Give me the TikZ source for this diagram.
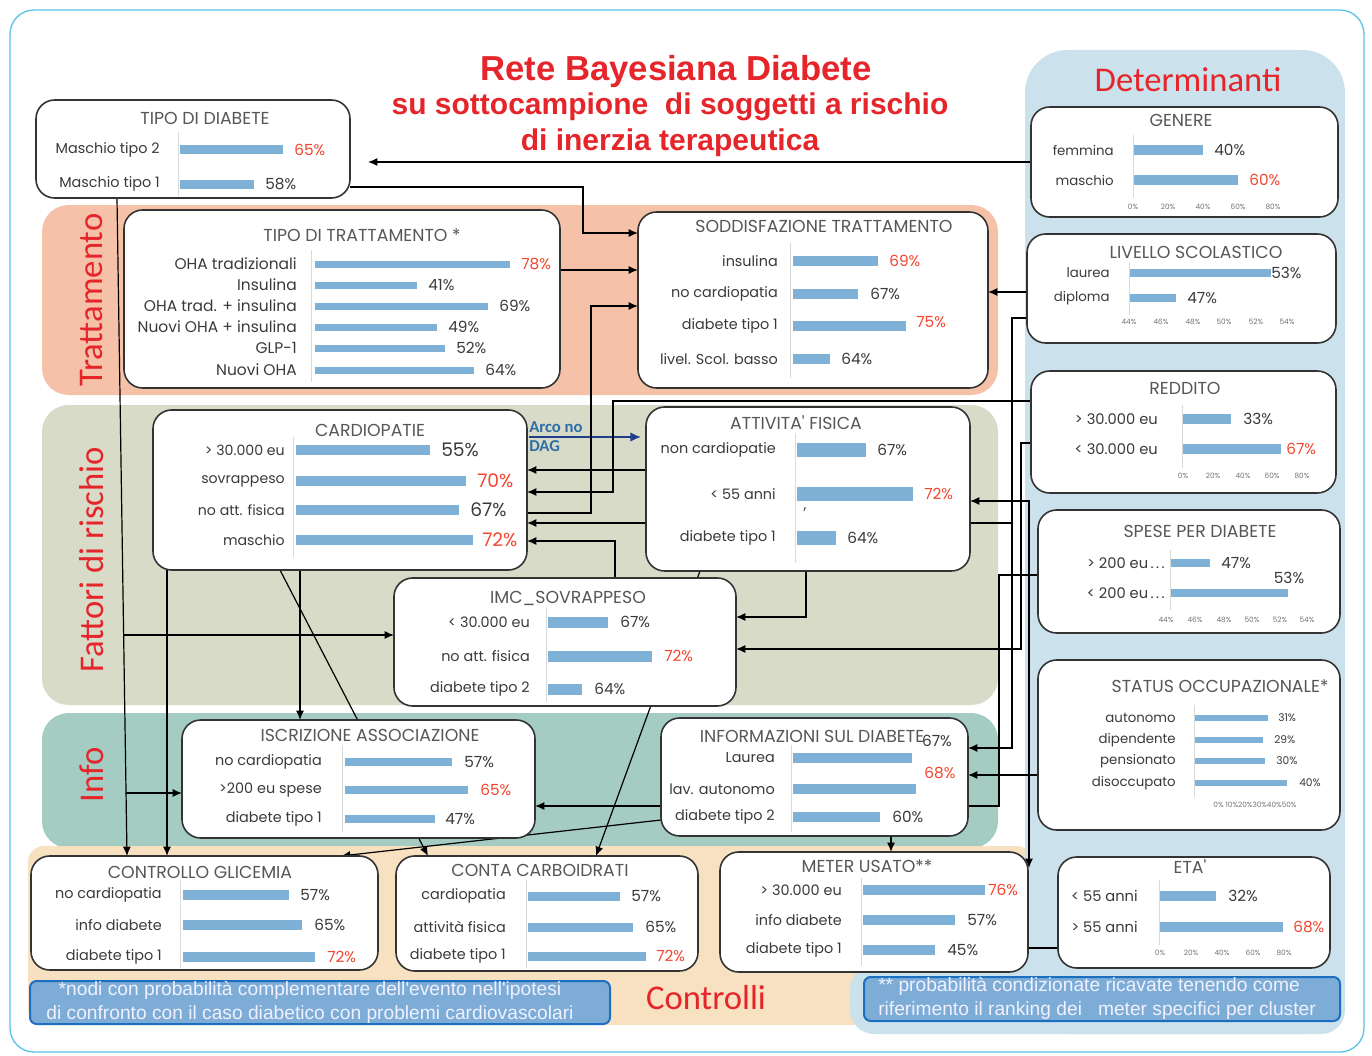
\documentclass[tikz,border=0pt]{standalone}
\usepackage{fontspec}
\setmainfont{Poppins}
\newfontfamily\boxfont{Poppins}
\newfontfamily\labfont{Carlito}
\newfontfamily\ttlfont{Liberation Sans}
\usetikzlibrary{arrows.meta}
\definecolor{barc}{HTML}{7FB1D6}
\definecolor{valred}{HTML}{F2452E}
\definecolor{txtg}{HTML}{3A3A3A}
\definecolor{redt}{HTML}{E5252A}
\definecolor{bandT}{HTML}{F5C2A9}
\definecolor{bandF}{HTML}{D7DBC8}
\definecolor{bandI}{HTML}{A4CCC3}
\definecolor{bandC}{HTML}{F8E1C0}
\definecolor{bandD}{HTML}{CBE1EC}
\definecolor{fnfill}{HTML}{7DADD7}
\definecolor{fnline}{HTML}{1C6FC0}
\definecolor{framec}{HTML}{5CC4E4}
\definecolor{dagc}{HTML}{1F3F8C}
\definecolor{dagt}{HTML}{2E6EA6}
\pgfdeclarelayer{bands}\pgfdeclarelayer{conn}
\pgfsetlayers{bands,conn,main}
\def\lsize{10.8}
\tikzset{
 pbox/.style={draw=black!80, line width=1.2pt, fill=white, rounded corners=14pt, inner sep=0pt, outer sep=0pt},
 lbl/.style={font=\boxfont\fontsize{\lsize}{12}\selectfont, text=txtg, inner sep=0pt},
 val/.style={font=\boxfont\fontsize{11.5}{13}\selectfont, text=txtg, inner sep=0pt},
 valr/.style={val, text=valred},
 valb/.style={font=\boxfont\fontsize{14}{15}\selectfont, text=txtg, inner sep=0pt},
 valbr/.style={valb, text=valred},
 vals/.style={font=\boxfont\fontsize{8}{9}\selectfont, text=txtg, inner sep=0pt},
 ttl/.style={font=\boxfont\fontsize{13}{14}\selectfont, text=txtg!85, inner sep=0pt},
 tick/.style={font=\boxfont\fontsize{5.5}{6}\selectfont, text=black!55, inner sep=0pt},
 axisl/.style={draw=black!15, line width=0.6pt},
 arr/.style={draw=black, line width=0.9pt, -{Latex[length=7pt,width=6pt]}},
 arr2/.style={draw=black, line width=0.9pt, {Latex[length=7pt,width=6pt]}-{Latex[length=7pt,width=6pt]}},
 plain/.style={draw=black, line width=0.9pt},
 dag/.style={draw=dagc, line width=1pt, -{Latex[length=8pt,width=7pt]}},
 bandlab/.style={font=\labfont\fontsize{26}{28}\selectfont, text=redt, inner sep=0pt},
 fnbox/.style={fill=fnfill, draw=fnline, line width=1.5pt, rounded corners=5pt, inner sep=0pt},
 fntext/.style={font=\ttlfont\fontsize{14.4}{18}\selectfont, text=white!94!blue, inner sep=0pt},
}
\newcommand{\mkbox}[5]{\node[pbox, minimum width={(#4-#2)*0.75pt}, minimum height={(#5-#3)*0.75pt}] (#1) at ({(#2+#4)/2},{(#3+#5)/2}) {};}
\newcommand{\brow}[9]{%
 \node[lbl,anchor=east] (#1-l) at (#3,#2) {#4};
 \fill[barc] (#5,#2-\bh) rectangle (#6,#2+\bh);
 \node[#9,anchor=west] (#1-v) at (#7,#2) {#8};}
\begin{document}
\begin{tikzpicture}[x=0.75pt,y=-0.75pt]
\useasboundingbox (0,0) rectangle (1372,1056);
\begin{pgfonlayer}{bands}
\fill[white] (0,0) rectangle (1372,1056);
\draw[draw=framec, line width=1pt, rounded corners=18pt] (10,10) rectangle (1364,1052);
\fill[bandT, rounded corners=20pt] (42,205) rectangle (998,395);
\fill[bandF, rounded corners=20pt] (42,405) rectangle (998,705);
\fill[bandI, rounded corners=20pt] (42,713) rectangle (998,848);
\fill[bandC, rounded corners=12pt] (28,846) rectangle (1032,1025);
\fill[bandD, rounded corners=32pt] (1025,50) rectangle (1345,1034);
\fill[bandD, rounded corners=18pt] (850,965) rectangle (1345,1034);
\end{pgfonlayer}

% band labels and title
\node[bandlab, rotate=90] (lab-t) at (92,300) {Trattamento};
\node[bandlab, rotate=90] (lab-f) at (92,560) {Fattori di rischio};
\node[bandlab, rotate=90] (lab-i) at (92,775) {Info};
\node[bandlab] (lab-c) at (706,998) {Controlli};
\node[bandlab] (lab-d) at (1188,80) {Determinanti};
\node[font=\ttlfont\bfseries\fontsize{26}{28}\selectfont, text=redt, inner sep=0pt] (tit1) at (676,72) {Rete Bayesiana Diabete};
\node[font=\ttlfont\bfseries\fontsize{22.5}{24}\selectfont, text=redt, inner sep=0pt] (tit2) at (670,107) {su sottocampione\ \ di soggetti a rischio};
\node[font=\ttlfont\bfseries\fontsize{22.5}{24}\selectfont, text=redt, inner sep=0pt] (tit3) at (670,143) {di inerzia terapeutica};

% boxes
\mkbox{tdd}{36}{100}{350}{198}
\mkbox{ttr}{124}{210}{560}{388}
\mkbox{sod}{638}{212}{988}{388}
\mkbox{car}{153}{410}{527}{570}
\mkbox{att}{646}{407}{970}{571}
\mkbox{imc}{394}{578}{736}{706}
\mkbox{isc}{182}{720}{535}{838}
\mkbox{inf}{661}{718}{968}{836}
\mkbox{cg}{31}{856}{378}{970}
\mkbox{cc}{396}{856}{698}{971}
\mkbox{met}{720}{852}{1028}{972}
\mkbox{gen}{1031}{107}{1338}{217}
\mkbox{liv}{1027}{234}{1336}{343}
\mkbox{rdd}{1031}{371}{1336}{493}
\mkbox{spe}{1038}{510}{1340}{633}
\mkbox{sta}{1038}{660}{1340}{830}
\mkbox{eta}{1058}{857}{1330}{968}

% TIPO DI DIABETE
\def\bh{4.5}
\node[ttl] (tdd-t) at (205,118) {TIPO DI DIABETE};
\draw[axisl] (178,132) -- (178,196);
\brow{tdd1}{150}{160}{Maschio tipo 2}{180}{283}{294}{65\%}{valr}
\brow{tdd2}{184}{160}{Maschio tipo 1}{180}{254}{265}{58\%}{val}

% TIPO DI TRATTAMENTO
\def\bh{3.5}\def\lsize{11.6}
\node[ttl] (ttr-t) at (362,235) {TIPO DI TRATTAMENTO *};
\draw[axisl] (311,250) -- (311,382);
\brow{ttr1}{264}{297}{OHA tradizionali}{315}{510}{521}{78\%}{valr}
\brow{ttr2}{285}{297}{Insulina}{315}{417}{428}{41\%}{val}
\brow{ttr3}{306}{297}{OHA trad. + insulina}{315}{488}{499}{69\%}{val}
\brow{ttr4}{327}{297}{Nuovi OHA + insulina}{315}{437}{448}{49\%}{val}
\brow{ttr5}{348}{297}{GLP-1}{315}{445}{456}{52\%}{val}
\brow{ttr6}{370}{297}{Nuovi OHA}{315}{474}{485}{64\%}{val}

% SODDISFAZIONE
\def\bh{5}\def\lsize{10.8}
\node[ttl] (sod-t) at (824,226) {SODDISFAZIONE TRATTAMENTO};
\draw[axisl] (790,243) -- (790,378);
\brow{sod1}{261}{778}{insulina}{793}{878}{889}{69\%}{valr}
\brow{sod2}{294}{778}{no cardiopatia}{793}{858}{870}{67\%}{val}
\brow{sod3}{326}{778}{diabete tipo 1}{793}{906}{916}{}{val}
\node[valr,anchor=west] (sod3-x) at (916,322) {75\%};
\brow{sod4}{359}{778}{livel. Scol. basso}{793}{830}{841}{64\%}{val}

% CARDIOPATIE
\def\lsize{10.6}
\node[ttl] (car-t) at (370,430) {CARDIOPATIE};
\draw[axisl] (293,437) -- (293,557);
\brow{car1}{450}{285}{> 30.000 eu}{296}{430}{441}{55\%}{valb}
\brow{car2}{481}{285}{sovrappeso}{296}{466}{477}{70\%}{valbr}
\brow{car3}{510}{285}{no att. fisica}{296}{459}{470}{67\%}{valb}
\brow{car4}{540}{285}{maschio}{296}{473}{482}{72\%}{valbr}

% ATTIVITA' FISICA
\def\bh{7}\def\lsize{10.8}
\node[ttl] (att-t) at (796,423) {ATTIVITA' FISICA};
\draw[axisl] (795,433) -- (795,563);
\brow{att1}{450}{776}{non cardiopatie}{797}{866}{877}{67\%}{val}
\brow{att2}{494}{776}{< 55 anni}{797}{913}{924}{72\%}{valr}
\brow{att3}{538}{776}{diabete tipo 1}{797}{836}{847}{64\%}{val}
\node[lbl] (att-c) at (805,510) {,};

% IMC
\def\bh{5.5}
\node[ttl] (imc-t) at (568,598) {IMC\_SOVRAPPESO};
\draw[axisl] (546,607) -- (546,702);
\brow{imc1}{622}{530}{< 30.000 eu}{548}{608}{620}{67\%}{val}
\brow{imc2}{656}{530}{no att. fisica}{548}{652}{664}{72\%}{valr}
\brow{imc3}{689}{530}{diabete tipo 2}{548}{582}{594}{64\%}{val}

% ISCRIZIONE
\def\bh{4}
\node[ttl] (isc-t) at (370,735) {ISCRIZIONE ASSOCIAZIONE};
\draw[axisl] (342,745) -- (342,832);
\brow{isc1}{762}{322}{no cardiopatia}{345}{452}{464}{57\%}{val}
\brow{isc2}{790}{322}{>200 eu spese}{345}{468}{480}{65\%}{valr}
\brow{isc3}{819}{322}{diabete tipo 1}{345}{435}{445}{47\%}{val}

% INFORMAZIONI
\def\bh{5}
\node[ttl] (inf-t) at (812,736) {INFORMAZIONI SUL DIABETE};
\node[val] (inf-a) at (937,741) {67\%};
\node[valr] (inf-b) at (940,773) {68\%};
\draw[axisl] (791,745) -- (791,832);
\brow{inf1}{758}{775}{Laurea}{793}{912}{920}{}{val}
\brow{inf2}{789}{775}{lav. autonomo}{793}{916}{920}{}{val}
\brow{inf3}{817}{775}{diabete tipo 2}{793}{880}{892}{60\%}{val}

% CONTROLLO GLICEMIA
\node[ttl] (cg-t) at (200,872) {CONTROLLO GLICEMIA};
\draw[axisl] (180,880) -- (180,968);
\brow{cg1}{895}{162}{no cardiopatia}{183}{289}{300}{57\%}{val}
\brow{cg2}{925}{162}{info diabete}{183}{302}{314}{65\%}{val}
\brow{cg3}{957}{162}{diabete tipo 1}{183}{315}{327}{72\%}{valr}

% CONTA CARBOIDRATI
\def\bh{4.5}
\node[ttl] (cc-t) at (540,870) {CONTA CARBOIDRATI};
\draw[axisl] (526,880) -- (526,968);
\brow{cc1}{896}{506}{cardiopatia}{528}{620}{631}{57\%}{val}
\brow{cc2}{927}{506}{attività fisica}{528}{633}{645}{65\%}{val}
\brow{cc3}{956}{506}{diabete tipo 1}{528}{646}{656}{72\%}{valr}

% METER USATO
\def\bh{5}
\node[ttl] (met-t) at (867,866) {METER USATO**};
\draw[axisl] (861,878) -- (861,966);
\brow{met1}{890}{842}{> 30.000 eu}{863}{985}{988}{76\%}{valr}
\brow{met2}{920}{842}{info diabete}{863}{955}{967}{57\%}{val}
\brow{met3}{950}{842}{diabete tipo 1}{863}{935}{947}{45\%}{val}

% GENERE
\def\lsize{10}
\node[ttl] (gen-t) at (1181,120) {GENERE};
\draw[axisl] (1133,135) -- (1133,198);
\brow{gen1}{150}{1114}{femmina}{1134}{1203}{1214}{40\%}{val}
\brow{gen2}{180}{1114}{maschio}{1134}{1238}{1249}{60\%}{valr}
\foreach \x/\t [count=\i] in {1133/0,1168/20,1203/40,1238/60,1273/80}
  \node[tick] (gen-k\i) at (\x,207) {\t\%};

% LIVELLO SCOLASTICO
\def\bh{4}
\node[ttl] (liv-t) at (1196,252) {LIVELLO SCOLASTICO};
\draw[axisl] (1129,262) -- (1129,315);
\brow{liv1}{273}{1110}{laurea}{1130}{1271}{1271}{53\%}{val}
\brow{liv2}{298}{1110}{diploma}{1130}{1176}{1187}{47\%}{val}
\foreach \x/\t [count=\i] in {1129/44,1161/46,1193/48,1224/50,1256/52,1287/54}
  \node[tick] (liv-k\i) at (\x,322) {\t\%};

% REDDITO
\def\bh{5}\def\lsize{11}
\node[ttl] (rdd-t) at (1185,388) {REDDITO};
\draw[axisl] (1182,405) -- (1182,468);
\brow{rdd1}{419}{1158}{> 30.000 eu}{1183}{1231}{1243}{33\%}{val}
\brow{rdd2}{449}{1158}{< 30.000 eu}{1183}{1281}{1286}{67\%}{valr}
\foreach \x/\t [count=\i] in {1183/0,1213/20,1243/40,1272/60,1302/80}
  \node[tick] (rdd-k\i) at (\x,476) {\t\%};

% SPESE
\def\bh{4}
\node[ttl] (spe-t) at (1200,531) {SPESE PER DIABETE};
\draw[axisl] (1170,550) -- (1170,610);
\brow{spe1}{563}{1165}{> 200 eu\,.\,.\,.}{1171}{1210}{1221}{47\%}{val}
\brow{spe2}{593}{1165}{< 200 eu\,.\,.\,.}{1171}{1288}{1290}{}{val}
\node[val] (spe-x) at (1289,578) {53\%};
\foreach \x/\t [count=\i] in {1166/44,1195/46,1224/48,1252/50,1280/52,1307/54}
  \node[tick] (spe-k\i) at (\x,620) {\t\%};

% STATUS
\def\bh{3}\def\lsize{10}
\node[ttl] (sta-t) at (1220,686) {STATUS OCCUPAZIONALE*};
\draw[axisl] (1194,705) -- (1194,797);
\brow{sta1}{718}{1176}{autonomo}{1195}{1268}{1278}{31\%}{vals}
\brow{sta2}{740}{1176}{dipendente}{1195}{1263}{1274}{29\%}{vals}
\brow{sta3}{761}{1176}{pensionato}{1195}{1265}{1276}{30\%}{vals}
\brow{sta4}{783}{1176}{disoccupato}{1195}{1287}{1299}{40\%}{vals}
\node[tick] (sta-k) at (1255,805) {0\% 10\%20\%30\%40\%50\%};

% ETA
\def\bh{5}\def\lsize{11}
\node[ttl] (eta-t) at (1190,867) {ETA'};
\draw[axisl] (1159,880) -- (1159,945);
\brow{eta1}{896}{1138}{< 55 anni}{1160}{1216}{1228}{32\%}{val}
\brow{eta2}{927}{1138}{> 55 anni}{1160}{1283}{1293}{68\%}{valr}
\foreach \x/\t [count=\i] in {1160/0,1191/20,1222/40,1253/60,1284/80}
  \node[tick] (eta-k\i) at (\x,953) {\t\%};

% footnotes
\node[fnbox, minimum width={580*0.75pt}, minimum height={43*0.75pt}] (fn1) at (320,1002.5) {};
\node[fntext, align=center] (fn1-t) at (310,1002.5) {*nodi con probabilità complementare dell'evento nell'ipotesi\\di confronto con il caso diabetico con problemi cardiovascolari};
\node[fnbox, minimum width={476*0.75pt}, minimum height={44*0.75pt}] (fn2) at (1102,999) {};
\node[fntext, align=left, anchor=west] (fn2-t) at (878,998) {** probabilità condizionate ricavate tenendo come\\riferimento il ranking dei\ \ \ meter specifici per cluster};

% Arco no DAG
\node[font=\labfont\bfseries\fontsize{12.5}{13}\selectfont, text=dagt, anchor=west, inner sep=0pt] (dag1) at (529,427) {Arco no};
\node[font=\labfont\bfseries\fontsize{12.5}{13}\selectfont, text=dagt, anchor=west, inner sep=0pt] (dag2) at (529,446) {DAG};
\coordinate (c-dag) at (641,437);
\coordinate (c-gen) at (368,162);
\coordinate (c-met) at (1029,868);

% connectors
\begin{pgfonlayer}{conn}
\draw[dag] (dag1.south west |- 0,437) -- (c-dag);
\draw[arr] (gen.west) -- (c-gen);
\draw[arr] (tdd.east |- 0,187) -| (583,233) -- (sod.west |- 0,233);
\draw[arr] (ttr.east |- 0,270) -- (sod.west |- 0,270);
\draw[arr] (car.east |- 0,513) -| (591,306) -- (sod.west |- 0,306);
\draw[arr] (att.west |- 0,470) -- (car.east |- 0,470);
\draw[arr] (rdd.west |- 0,401) -- (613,401) -- (613,492) -- (car.east |- 0,492);
\draw[arr] (imc.north -| 615,0) |- (car.east |- 0,541);
\draw[arr] (1012,523) -- (car.east |- 0,523);
\draw[arr] (liv.west |- 0,292) -- (sod.east |- 0,292);
\draw[arr] (liv.west |- 0,318) -- (1012,318) |- (inf.east |- 0,748);
\draw[arr] (rdd.west |- 0,443) -- (1021,443) |- (imc.east |- 0,649);
\draw[arr] (att.south -| 806,0) |- (imc.east |- 0,617);
\draw[arr2] (att.east |- 0,501) -| (c-met);
\draw[plain] (eta.west |- 0,948) -- (met.east |- 0,948);
\draw[arr] (spe.west |- 0,575) -- (999,575) -- (999,806) -- (isc.east |- 0,806);
\draw[arr] (sta.west |- 0,775) -- (inf.east |- 0,775);
\draw[arr] (inf.south -| 891,0) -- (met.north -| 891,0);
\draw[arr] (inf.west |- 0,820) -- (cg.north -| 341,0);
\draw[arr] (tdd.south -| 117,0) -- (cg.north -| 127,0);
\coordinate (b2) at (123.6,635);
\coordinate (b1) at (126,793);
\draw[arr] (b2) -- (imc.west |- b2);
\draw[arr] (b1) -- (isc.west |- b1);
\draw[arr] (car.south -| 167,0) -- (cg.north -| 167,0);
\draw[arr] (car.south -| 300,0) -- (isc.north -| 300,0);
\draw[arr] (car.south -| 280,0) -- (cc.north -| 428,0);
\draw[arr] (att.south -| 700,0) -- (cc.north -| 596,0);
\end{pgfonlayer}
\end{tikzpicture}
\end{document}
